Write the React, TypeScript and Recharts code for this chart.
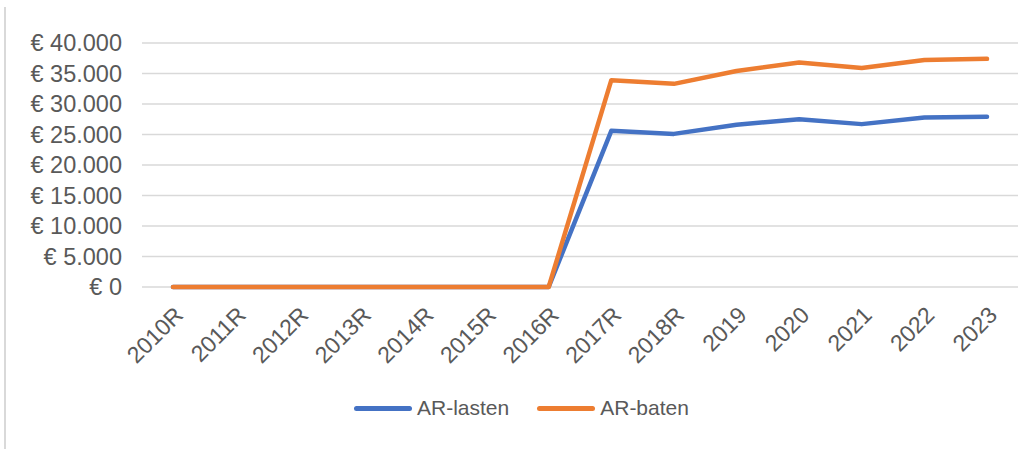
import { CartesianGrid, Legend, Line, LineChart, XAxis, YAxis } from "recharts";

const years = [
  "2010R", "2011R", "2012R", "2013R", "2014R", "2015R", "2016R",
  "2017R", "2018R", "2019", "2020", "2021", "2022", "2023",
];
const arLasten = [0, 0, 0, 0, 0, 0, 0, 25600, 25100, 26600, 27500, 26700, 27800, 27900];
const arBaten = [0, 0, 0, 0, 0, 0, 0, 33900, 33300, 35400, 36800, 35900, 37200, 37400];
const yTicks = [0, 5000, 10000, 15000, 20000, 25000, 30000, 35000, 40000];

const BLUE = "#4472C4";
const ORANGE = "#ED7D31";
const TEXT = "#595959";
const GRID = "#d9d9d9";

const data = years.map((year, i) => ({
  year,
  lasten: arLasten[i],
  baten: arBaten[i],
}));

// Dutch notation: thousands separated with a dot
const euro = (v: number) => "€ " + String(v).replace(/\B(?=(\d{3})+(?!\d))/g, ".");

const legendItems = [
  { label: "AR-lasten", color: BLUE },
  { label: "AR-baten", color: ORANGE },
];

function ChartLegend() {
  return (
    <div
      style={{
        display: "flex",
        alignItems: "center",
        height: 30,
        paddingLeft: 354,
        fontFamily: "'Liberation Sans', Arial, sans-serif",
        fontSize: 21,
        color: TEXT,
      }}
    >
      {legendItems.map((item) => (
        <div key={item.label} style={{ display: "flex", alignItems: "center", marginRight: 28 }}>
          <span
            style={{
              display: "inline-block",
              width: 58,
              height: 5,
              borderRadius: 3,
              background: item.color,
              marginRight: 5,
            }}
          />
          <span>{item.label}</span>
        </div>
      ))}
    </div>
  );
}

export default function App() {
  return (
    <>
      <style>{"body{margin:0;background:#fff;}"}</style>
      <div style={{ position: "relative", width: 1030, height: 449, background: "#fff" }}>
        <div
          style={{
            position: "absolute",
            left: 4,
            top: 7,
            width: 1.5,
            height: 442,
            background: GRID,
          }}
        />
        <LineChart
          width={1030}
          height={449}
          data={data}
          margin={{ top: 43, right: 12, left: 0, bottom: 26 }}
        >
          <CartesianGrid vertical={false} stroke={GRID} strokeWidth={1.5} />
          <XAxis
            dataKey="year"
            height={106}
            interval={0}
            axisLine={false}
            tickLine={false}
            tickMargin={12}
            padding={{ left: 31, right: 31 }}
            angle={-45}
            textAnchor="end"
            tick={{ fill: TEXT, fontSize: 23, fontFamily: "'Liberation Sans', Arial, sans-serif" }}
          />
          <YAxis
            width={142}
            domain={[0, 40000]}
            ticks={yTicks}
            interval={0}
            axisLine={false}
            tickLine={false}
            tickMargin={14}
            tickFormatter={euro}
            tick={{ fill: TEXT, fontSize: 23.5, fontFamily: "'Liberation Sans', Arial, sans-serif" }}
          />
          <Legend
            verticalAlign="bottom"
            height={30}
            wrapperStyle={{ left: 0, width: 1030 }}
            content={() => <ChartLegend />}
          />
          <Line
            type="linear"
            dataKey="lasten"
            name="AR-lasten"
            stroke={BLUE}
            strokeWidth={4.5}
            strokeLinecap="round"
            strokeLinejoin="round"
            dot={false}
            isAnimationActive={false}
          />
          <Line
            type="linear"
            dataKey="baten"
            name="AR-baten"
            stroke={ORANGE}
            strokeWidth={4.5}
            strokeLinecap="round"
            strokeLinejoin="round"
            dot={false}
            isAnimationActive={false}
          />
        </LineChart>
      </div>
    </>
  );
}
